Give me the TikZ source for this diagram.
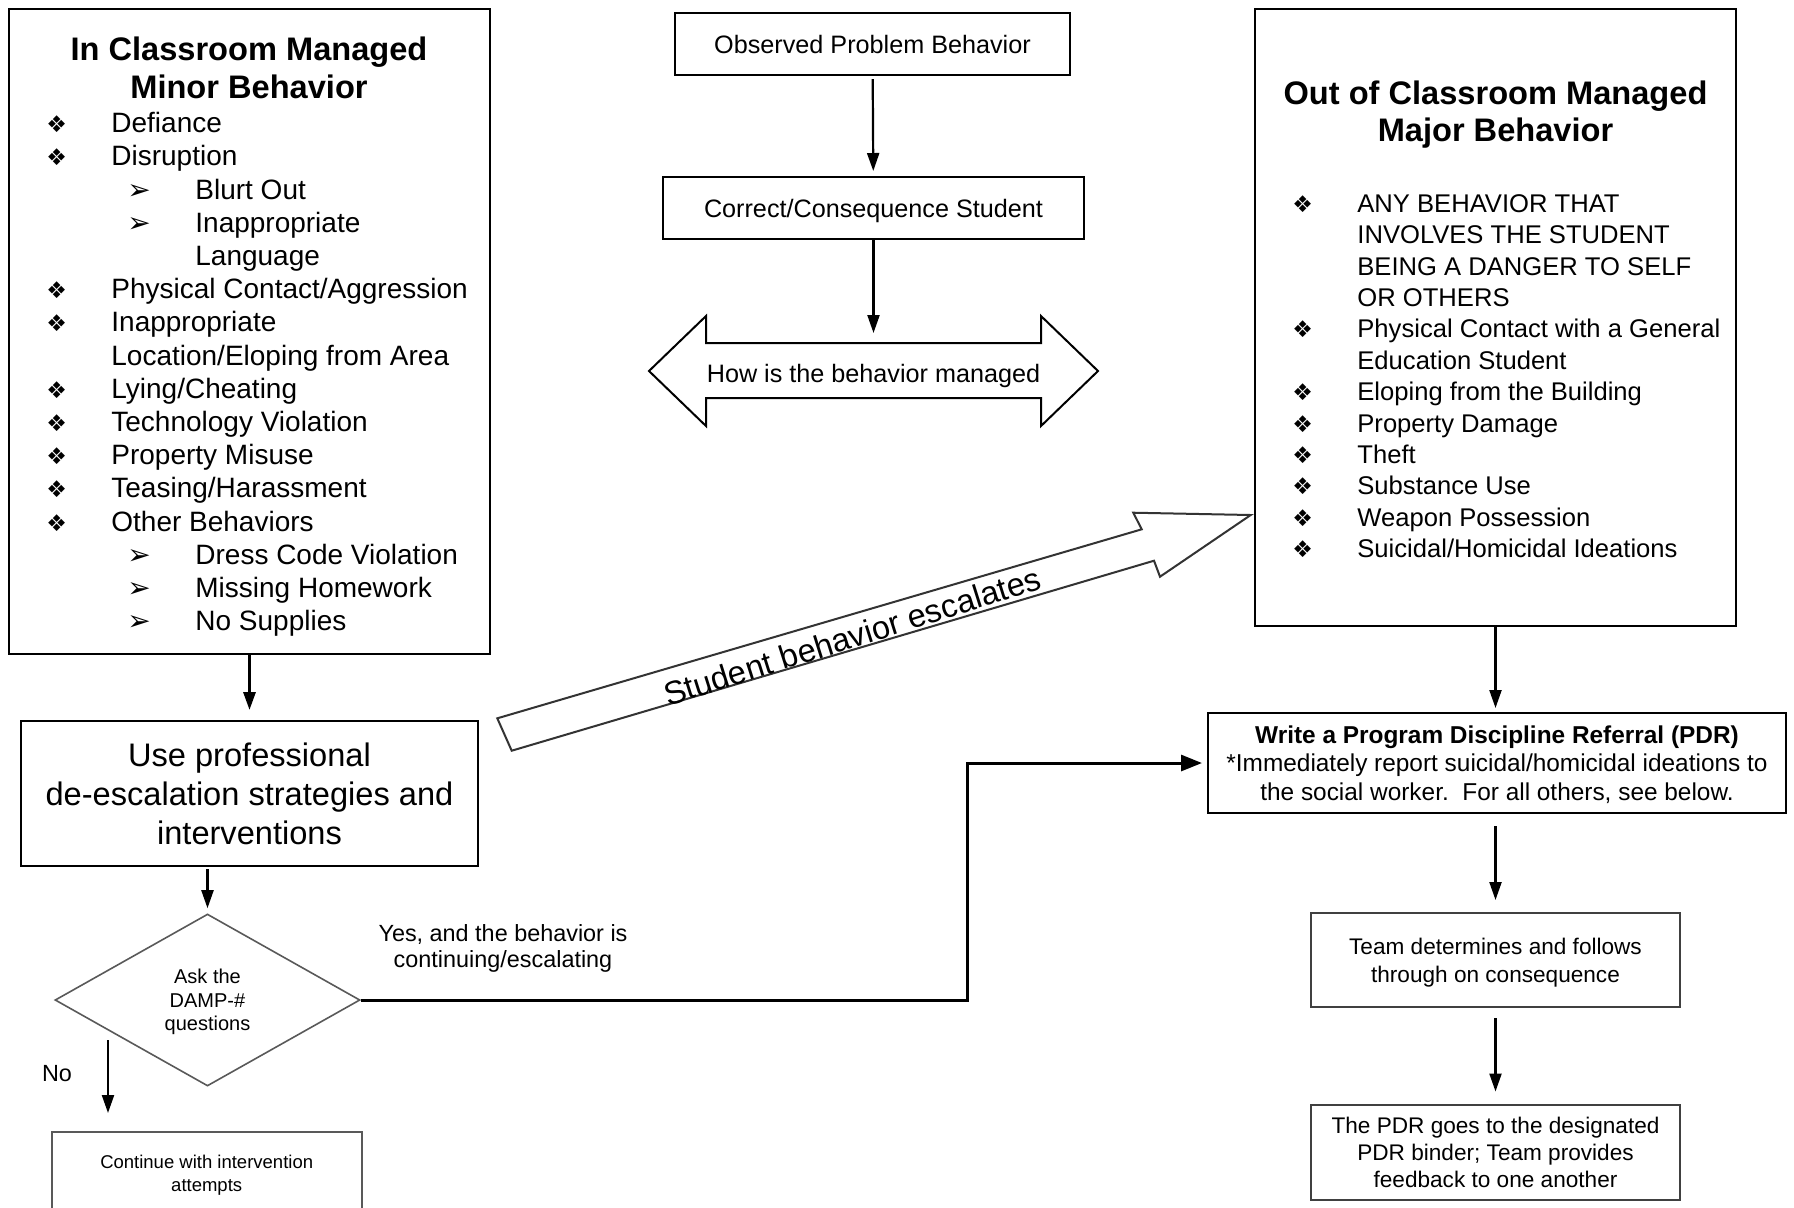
\documentclass[tikz,border=0pt]{standalone}
\usepackage{fontspec}
\setmainfont{Liberation Sans}
\newfontfamily\dingfont{DejaVu Sans}
\usepackage{tikz}
\usetikzlibrary{arrows.meta,shapes.geometric,positioning}

\newcommand{\fs}[2]{\fontsize{#1}{#2}\selectfont}
\newcommand{\bul}{\makebox[32.5pt][l]{\dingfont\fontsize{11.5}{11.5}\selectfont ❖}}
\newcommand{\sbul}{\hspace*{40.5pt}\makebox[34pt][l]{\dingfont\fontsize{14}{14}\selectfont ➢}}

\begin{document}
\begin{tikzpicture}[x=0.5pt,y=-0.5pt]
\useasboundingbox (0,0) rectangle (1794,1207);
\clip (0,0) rectangle (1794,1207);

\begin{scope}[every node/.style={draw,line width=1pt,inner sep=0pt,align=center,text depth=0pt}]
    \node[line width=1.3pt,minimum width=240.5pt,minimum height=322.5pt] (minor) at (249.5,331.5) {};
    \node[line width=1.3pt,minimum width=240.5pt,minimum height=308.5pt] (major) at (1495.5,317.5) {};

    \node[minimum width=197.5pt,minimum height=31pt,font=\fs{12.6}{15}] (obs) at (872.5,44) {Observed Problem Behavior};
    \node[minimum width=210.5pt,minimum height=31pt,font=\fs{12.6}{15}] (cor) at (873.5,208) {Correct/Consequence Student};

    \node[minimum width=228.5pt,minimum height=72.5pt,font=\fs{16.3}{19.5}] (deesc) at (249.5,793.5)
        {Use professional\\de-escalation strategies and\\interventions};
    \node[diamond,draw=black!65,line width=0.8pt,minimum width=152.5pt,minimum height=86pt,font=\fs{10}{11.7}] (ask) at (207.5,1000)
        {Ask the\\DAMP-\#\\questions};
    \node[draw=black!65,line width=0.8pt,anchor=north,minimum width=155pt,minimum height=60pt] (cont) at (206.7,1131) {};

    \node[minimum width=289pt,minimum height=50pt,font=\fs{12.2}{14.4}] (pdr) at (1497,763)
        {\textbf{Write a Program Discipline Referral (PDR)}\\*Immediately report suicidal/homicidal ideations to\\the social worker.\ \ For all others, see below.};
    \node[draw=black!75,minimum width=184.5pt,minimum height=47pt,font=\fs{11.3}{14.2}] (team) at (1495.5,960)
        {Team determines and follows\\through on consequence};
    \node[draw=black!75,minimum width=184.5pt,minimum height=47.5pt,font=\fs{11.3}{13.6}] (binder) at (1495.5,1152)
        {The PDR goes to the designated\\PDR binder; Team provides\\feedback to one another};
\end{scope}

% block arrows
\draw[line width=1pt] (649,371) -- (706,316) -- (706,343) -- (1041,343) -- (1041,316) -- (1098,371)
    -- (1041,426) -- (1041,398) -- (706,398) -- (706,426) -- cycle;
\draw[line width=1pt,draw=black!80] (497.3,718.3) -- (1141.7,529.3) -- (1133.3,512.7) -- (1250.7,515)
    -- (1160,576.7) -- (1154,560.7) -- (511.7,750.7) -- cycle;

\begin{scope}[every node/.style={inner sep=0pt,align=center,text depth=0pt}]
    \node[font=\bfseries\fs{16.3}{19}] (minortitle) at (249,68) {In Classroom Managed\\Minor Behavior};
    \node[align=left,anchor=north west,font=\fs{14}{16.6}] (minorlist) at (46,112) {%
        \bul Defiance\\
        \bul Disruption\\
        \sbul Blurt Out\\
        \sbul Inappropriate\\
        \hspace*{74.5pt}Language\\
        \bul Physical Contact/Aggression\\
        \bul Inappropriate\\
        \hspace*{32.5pt}Location/Eloping from Area\\
        \bul Lying/Cheating\\
        \bul Technology Violation\\
        \bul Property Misuse\\
        \bul Teasing/Harassment\\
        \bul Other Behaviors\\
        \sbul Dress Code Violation\\
        \sbul Missing Homework\\
        \sbul No Supplies};

    \node[font=\bfseries\fs{16.3}{18.8}] (majortitle) at (1495.5,111) {Out of Classroom Managed\\Major Behavior};
    \node[align=left,anchor=north west,font=\fs{12.8}{15.7}] (majorlist) at (1292,194) {%
        \bul ANY BEHAVIOR THAT\\
        \hspace*{32.5pt}INVOLVES THE STUDENT\\
        \hspace*{32.5pt}BEING A DANGER TO SELF\\
        \hspace*{32.5pt}OR OTHERS\\
        \bul Physical Contact with a General\\
        \hspace*{32.5pt}Education Student\\
        \bul Eloping from the Building\\
        \bul Property Damage\\
        \bul Theft\\
        \bul Substance Use\\
        \bul Weapon Possession\\
        \bul Suicidal/Homicidal Ideations};

    \node[font=\fs{12.6}{15}] (how) at (873.5,373) {How is the behavior managed};
    \node[rotate=17.5,font=\fs{16.3}{19}] (esc) at (852,636) {Student behavior escalates};
    \node[font=\fs{11.7}{13.3}] (yes) at (503,946) {Yes, and the behavior is\\continuing/escalating};
    \node[font=\fs{11.7}{13.3}] (no) at (57,1073) {No};
    \node[font=\fs{9.25}{11.7}] (conttext) at (206.7,1173) {Continue with intervention\\attempts};
\end{scope}

\coordinate (managetop) at (873.5,343);
\coordinate (nostart) at (108,1040);
\coordinate (bend) at (967,1000);

\begin{scope}[>={Triangle[length=9pt,width=6pt]},
              every edge/.style={draw=black,line width=1.1pt}]
    \path [->] (obs) edge[shorten <=1.5pt,shorten >=2.5pt] (cor);
    \path [->] (cor) edge[shorten >=5pt] (managetop);
    \path [->] (minor) edge[line width=1.5pt,shorten >=5pt] (deesc);
    \path [->] (deesc.south -| ask.north) edge[shorten <=1pt,shorten >=2.5pt] (ask.north);
    \path [->] (nostart) edge[shorten >=9pt] (nostart |- cont.north);
    \path [->] (major.south) edge[shorten >=2pt] (major.south |- pdr.north);
    \path [->] (pdr.south -| team.north) edge[shorten <=6pt,shorten >=6pt] (team.north);
    \path [->] (team) edge[shorten <=5pt,shorten >=6pt] (binder);
\end{scope}

\draw[->,>={Triangle[length=10.5pt,width=8pt]},line width=1.5pt,shorten >=2.5pt]
    (ask.east) -- (bend) |- (pdr.west);

\end{tikzpicture}
\end{document}
